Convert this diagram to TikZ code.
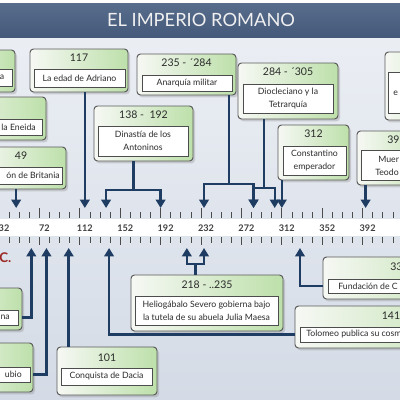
\documentclass[tikz,border=0pt]{standalone}
\usepackage{fontspec}
\setmainfont{Lato}
\usetikzlibrary{arrows.meta,shadows,positioning}

\definecolor{bgtop}{HTML}{EDF0F5}
\definecolor{bgbot}{HTML}{D4DBE6}
\definecolor{barA}{HTML}{586D8C}
\definecolor{barB}{HTML}{45597A}
\definecolor{navy}{HTML}{1F3D63}
\definecolor{boxline}{HTML}{5A5A5A}
\definecolor{boxgreen}{HTML}{BDE0AA}
\definecolor{boxlite}{HTML}{F6F8F4}
\definecolor{inline}{HTML}{4D4D4D}
\definecolor{txt}{HTML}{2B2B2B}
\definecolor{redtxt}{HTML}{9B2A25}

% posicion x de un ano sobre la linea de tiempo
\newcommand\yr[1]{-1+1.01*(#1-32)}

\begin{document}
\begin{tikzpicture}[x=0.25mm, y=-0.25mm, >={Triangle[width=2.4mm,length=2.1mm]},
    font=\fontsize{6.2}{9}\selectfont,
    sz/.style 2 args={minimum width=#1*0.25mm, minimum height=#2*0.25mm}]
  \tikzstyle{evbox}=[draw=boxline, line width=0.7pt, rounded corners=2.5pt,
                     left color=boxlite, right color=boxgreen, inner sep=0pt,
                     drop shadow={opacity=0.3, shadow xshift=0.5mm, shadow yshift=-0.6mm}]
  \tikzstyle{inbox}=[draw=inline, line width=0.5pt, fill=white, inner sep=0pt,
                     align=center, text=txt]
  \tikzstyle{datetxt}=[font=\fontsize{7.5}{8}\selectfont, text=txt, inner sep=0pt]
  \tikzstyle{frag}=[text=txt, inner sep=0pt]
  \tikzstyle{conn}=[draw=navy, line width=1.7pt, ->]
  \tikzstyle{brk}=[draw=navy, line width=1.7pt]
  \tikzstyle{tick}=[draw=black!70, line width=0.5pt]
  \tikzstyle{yearlbl}=[font=\bfseries\fontsize{6.5}{7}\selectfont, text=black!75, inner sep=0pt]

  \useasboundingbox (0,0) rectangle (400,400);
  \clip (0,0) rectangle (400,400);

  % --- fondo y titulo ---
  \shade[top color=bgtop, bottom color=bgbot] (0,0) rectangle (400,400);
  \fill[white!95!bgtop] (0,0) rectangle (400,3);
  \shade[top color=barA, bottom color=barB] (0,3) rectangle (400,37);
  \node[font=\fontsize{13}{15}\selectfont, text=white!94!black] (titulo) at (201,20) {EL IMPERIO ROMANO};

  % --- linea de tiempo ---
  \fill[white] (0,219) rectangle (400,236);
  \foreach \i in {0,...,40}
    \draw[tick] ({-1+10.1*\i},212) -- ++(0,6) ({-1+10.1*\i},237) -- ++(0,6);
  \foreach \i in {0,...,10} {
    \draw[tick] ({-1+40.4*\i},208) -- ++(0,10) ({-1+40.4*\i},237) -- ++(0,8);
    \pgfmathtruncatemacro\yy{32+40*\i}
    \node[yearlbl] (lbl\i) at ({4+40.4*\i},228) {\yy};
  }
  \node[font=\bfseries\fontsize{9.5}{10}\selectfont, text=redtxt, anchor=west, inner sep=0pt] (dc) at (-1,258) {C.};

  % puntas de flecha sobre la linea
  \foreach \a in {49,117,138,192,235,284,305,312,395}
    \coordinate (t\a) at ({\yr{\a}},208);
  \foreach \a in {64,79,101,141,218,235,330}
    \coordinate (u\a) at ({\yr{\a}},248);

  % --- cajas de arriba ---
  \node[evbox, sz={75}{42}] (topa) at (-22.5,71) {};
  \node[inbox, sz={67}{17}] (topa-in) at (-21.5,77.5) {};
  \node[frag, anchor=east] at (4.5,77.5) {a};

  \node[evbox, sz={106}{43}] (eneida) at (-7,118.5) {};
  \node[inbox, sz={97}{16}] (eneida-in) at (-6.5,127) {};
  \node[frag, anchor=east] at (36,127) {la Eneida};

  \node[evbox, sz={89}{42}] (britania) at (21.5,168) {};
  \node[datetxt] at (21,156) {49};
  \node[inbox, sz={81}{17}] (britania-in) at (21.5,175.5) {};
  \node[frag, anchor=east] at (60,175.5) {ón de Britania};

  \node[evbox, sz={98}{43}] (adriano) at (79,70.5) {};
  \node[datetxt] at (79,58) {117};
  \node[inbox, sz={91}{18}] (adriano-in) at (79.5,78) {La edad de Adriano};

  \node[evbox, sz={99}{41}] (anarquia) at (186.5,74.5) {};
  \node[datetxt] at (186.5,63) {235 - ´284};
  \node[inbox, sz={90}{16}] (anarquia-in) at (187,83) {Anarquía militar};

  \node[evbox, sz={100}{56}] (diocleciano) at (288,91) {};
  \node[datetxt] at (288,72) {284 - ´305};
  \node[inbox, sz={90}{29}] (diocleciano-in) at (288,98.5) {Diocleciano y la\\Tetrarquía};

  \node[evbox, sz={99}{55}] (dinastia) at (143.5,133.5) {};
  \node[datetxt] at (143.5,115) {138 - \ 192};
  \node[inbox, sz={90}{30}] (dinastia-in) at (143,141) {Dinastía de los\\Antoninos};

  \node[evbox, sz={71}{55}] (constantino) at (313.5,152.5) {};
  \node[datetxt] at (313.5,134) {312};
  \node[inbox, sz={63}{29}] (constantino-in) at (314.5,160.5) {Constantino\\emperador};

  \node[evbox, sz={83}{54}] (teodosio) at (398.5,158) {};
  \node[datetxt, anchor=west] at (387,140) {395};
  \node[inbox, sz={75}{30}] (teodosio-in) at (398.5,165) {};
  \node[frag, anchor=west] at (378,159) {Muer};
  \node[frag, anchor=west] at (375,172) {Teodo};

  \node[evbox, sz={85}{68}] (topb) at (427.5,86) {};
  \node[inbox, sz={77}{41}] (topb-in) at (426.5,92.5) {};
  \node[frag, anchor=west] at (393,93) {e};

  % --- cajas de abajo ---
  \node[evbox, sz={82}{42}] (incendio) at (-19,309) {};
  \node[inbox, sz={73}{15}] (incendio-in) at (-18.5,317.5) {};
  \node[frag, anchor=east] at (10,317.5) {na};

  \node[evbox, sz={93}{49}] (vesubio) at (-13.5,367.5) {};
  \node[inbox, sz={85}{15}] (vesubio-in) at (-12.5,374.5) {};
  \node[frag, anchor=east] at (22,374.5) {ubio};

  \node[evbox, sz={100}{48}] (dacia) at (107,371) {};
  \node[datetxt] at (107,358) {101};
  \node[inbox, sz={91}{17}] (dacia-in) at (106.5,376.5) {Conquista de Dacia};

  \node[evbox, sz={152}{56}] (heliogabalo) at (207,303) {};
  \node[datetxt] at (207,285) {218 - ..235};
  \node[inbox, sz={143}{29}] (heliogabalo-in) at (206.5,310.5)
    {Heliogábalo Severo gobierna bajo\\la tutela de su abuela Julia Maesa};

  \node[evbox, sz={157}{42}] (constantinopla) at (401.5,278) {};
  \node[datetxt, anchor=west] at (390,267) {33};
  \node[inbox, sz={147}{14}] (constantinopla-in) at (401.5,286) {};
  \node[frag, anchor=west] at (338,286) {Fundación de C};

  \node[evbox, sz={195}{42}] (tolomeo) at (392.5,327) {};
  \node[datetxt] at (391,316) {141};
  \node[inbox, sz={185}{15}] (tolomeo-in) at (392.5,334.5) {};
  \node[frag, anchor=west] at (306,334.5) {Tolomeo publica su cosm};

  % --- conectores de arriba ---
  \draw[conn] (britania.south -| t49) -- (t49);
  \draw[conn] (adriano.south -| t117) -- (t117);
  \coordinate (dinastia-k) at ({(\yr{138}+\yr{192})/2},190);
  \draw[brk] (dinastia.south -| dinastia-k) -- (dinastia-k);
  \draw[conn] (dinastia-k) -| (t138);
  \draw[conn] (dinastia-k) -| (t192);
  \coordinate (anarquia-k) at ({(\yr{235}+\yr{284})/2},184);
  \draw[brk] (anarquia.south -| anarquia-k) -- (anarquia-k);
  \draw[conn] (anarquia-k) -| (t235);
  \draw[conn] (anarquia-k) -| (t284);
  \coordinate (diocleciano-k) at ({(\yr{284}+\yr{305})/2},188);
  \draw[brk] (diocleciano.south -| diocleciano-k) -- (diocleciano-k);
  \draw[conn] (diocleciano-k) -| (t284);
  \draw[conn] (diocleciano-k) -| (t305);
  \draw[conn] (constantino.south -| t312) -- (t312);
  \draw[conn] (teodosio.south -| t395) -- (t395);

  % --- conectores de abajo ---
  \draw[conn] (incendio.east |- incendio-in.east) -| (u64);
  \draw[conn] (vesubio.east |- vesubio-in.east) -| (u79);
  \draw[conn] (dacia.north -| u101) -- (u101);
  \draw[conn] (tolomeo.west |- tolomeo-in.west) -| (u141);
  \coordinate (heliogabalo-k) at ({(\yr{218}+\yr{235})/2},264);
  \draw[brk] (heliogabalo.north -| heliogabalo-k) -- (heliogabalo-k);
  \draw[conn] (heliogabalo-k) -| (u218);
  \draw[conn] (heliogabalo-k) -| (u235);
  \draw[conn] (constantinopla.west |- constantinopla-in.west) -| (u330);
\end{tikzpicture}
\end{document}
